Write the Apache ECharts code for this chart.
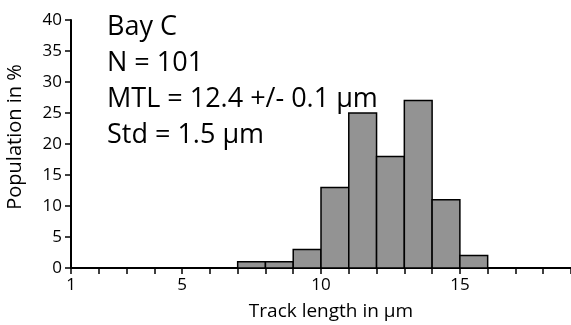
<!DOCTYPE html>
<html>
<head>
<meta charset="utf-8">
<script src="https://cdn.jsdelivr.net/npm/echarts@6/dist/echarts.min.js"></script>
<style>
html,body{margin:0;padding:0;background:#fff;}
#chart{width:571px;height:325px;}
</style>
</head>
<body>
<div id="chart"></div>
<script>
// Histogram bins (track length in µm) and population in %
const binStarts = [7, 8, 9, 10, 11, 12, 13, 14, 15];
const binEnds = [8, 9, 10, 11, 12, 13, 14, 15, 16];
const populations = [1, 1, 3, 13, 25, 18, 27, 11, 2];
const xTickLabels = [1, 5, 10, 15];
const annotationLines = ['Bay C', 'N = 101', 'MTL = 12.4 +/- 0.1 \u03bcm', 'Std = 1.5 \u03bcm'];

const FONT = 'Open Sans';
const data = binStarts.map((s, i) => [s, binEnds[i], populations[i]]);

const chart = echarts.init(document.getElementById('chart'));
chart.setOption({
  animation: false,
  grid: { left: 71, right: 0, top: 20, bottom: 57, containLabel: false, outerBoundsMode: 'none' },
  xAxis: {
    type: 'value', min: 1, max: 19, interval: 1,
    name: 'Track length in \u03bcm', nameLocation: 'middle', nameGap: 34,
    nameTextStyle: { color: '#000', fontFamily: FONT, fontSize: 19, padding: [0, 0, 0, 20] },
    axisLine: { show: true, onZero: false, lineStyle: { color: '#000', width: 2 } },
    axisTick: { show: true, inside: false, length: 6, lineStyle: { color: '#000', width: 1.5 } },
    axisLabel: {
      color: '#000', fontFamily: FONT, fontSize: 17, margin: 9,
      showMinLabel: true, showMaxLabel: true,
      formatter: v => xTickLabels.includes(v) ? String(v) : ''
    },
    splitLine: { show: false }
  },
  yAxis: {
    type: 'value', min: 0, max: 40, interval: 5,
    name: 'Population in %', nameLocation: 'middle', nameGap: 46,
    nameTextStyle: { color: '#000', fontFamily: FONT, fontSize: 20, padding: [0, 0, 0, 14] },
    axisLine: { show: true, lineStyle: { color: '#000', width: 2 } },
    axisTick: { show: true, inside: false, length: 6, lineStyle: { color: '#000', width: 1.5 } },
    axisLabel: { color: '#000', fontFamily: FONT, fontSize: 17, margin: 9 },
    splitLine: { show: false }
  },
  graphic: [{
    type: 'text', left: 107, top: 9,
    style: {
      text: annotationLines.join('\n'),
      fill: '#000', font: '27px "' + FONT + '"', lineHeight: 36
    }
  }],
  series: [{
    type: 'custom',
    data: data,
    encode: { x: [0, 1], y: 2 },
    renderItem: function (params, api) {
      const p0 = api.coord([api.value(0), api.value(2)]);
      const p1 = api.coord([api.value(1), 0]);
      return {
        type: 'rect',
        shape: { x: p0[0], y: p0[1], width: p1[0] - p0[0], height: p1[1] - p0[1] },
        style: { fill: '#939393', stroke: '#000', lineWidth: 1.5 }
      };
    }
  }]
});
</script>
</body>
</html>
